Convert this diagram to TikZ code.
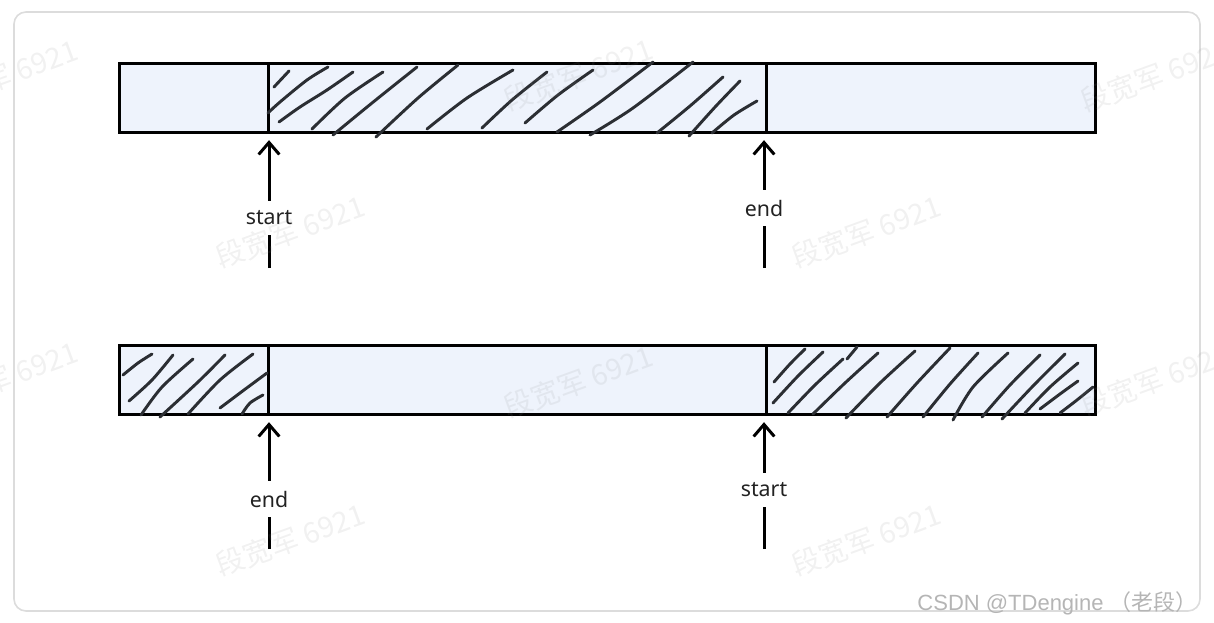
\documentclass[tikz,border=0pt]{standalone}
\usepackage{fontspec}
\setmainfont{Noto Sans}
\newfontfamily\cjk{Noto Sans CJK SC}
\newfontfamily\arialf{Liberation Sans}
\usetikzlibrary{arrows.meta}
\definecolor{barfill}{HTML}{EEF3FC}
\definecolor{hatch}{HTML}{2B2E33}
\definecolor{framec}{HTML}{DCDCDC}
\definecolor{lbl}{HTML}{222222}
\definecolor{wm}{HTML}{8A8A8A}
\definecolor{csdn}{HTML}{B5B5B5}
\begin{document}
\begin{tikzpicture}[x=0.75pt,y=-0.75pt,
 seg/.style={draw=black, fill=barfill, line width=2.25pt, rectangle, inner sep=0pt, minimum height=69*0.75pt},
 hatchline/.style={draw=hatch, line width=2.2pt, line cap=round, line join=round},
 lab/.style={font=\fontsize{16}{19}\selectfont, text=lbl, inner xsep=2pt, inner ysep=7.5pt},
 pointer/.style={line width=2.25pt, -{Straight Barb[length=9pt,width=15.5pt]}, shorten >=5pt},
 tailline/.style={line width=2.25pt},
 wmark/.style={font=\cjk\fontsize{21.5}{24}\selectfont, text=wm, text opacity=0.12, rotate=20},
]
\useasboundingbox (0,0) rectangle (1214,622);
\draw[framec, line width=1.2pt, rounded corners=9pt] (14,12) rectangle (1200,611);

% top bar
\node[seg, minimum width=149*0.75pt] (a1) at (193.5,97.5) {};
\node[seg, minimum width=498*0.75pt] (a2) at (517,97.5) {};
\node[seg, minimum width=329*0.75pt] (a3) at (930.5,97.5) {};
% bottom bar
\node[seg, minimum width=149*0.75pt] (b1) at (193.5,379.5) {};
\node[seg, minimum width=498*0.75pt] (b2) at (517,379.5) {};
\node[seg, minimum width=329*0.75pt] (b3) at (930.5,379.5) {};

% hatching top middle
\draw[hatchline] (274,87) -- (289,71);
\draw[hatchline] plot[smooth] coordinates {(268,113) (280,102) (307,80) (328,67)};
\draw[hatchline] plot[smooth] coordinates {(279,122) (300,107) (327,90) (353,72)};
\draw[hatchline] plot[smooth] coordinates {(312,129) (345,98) (383,72)};
\draw[hatchline] plot[smooth] coordinates {(333,135) (372,103) (417,67)};
\draw[hatchline] plot[smooth] coordinates {(376,137) (418,98) (458,65)};
\draw[hatchline] plot[smooth] coordinates {(427,129) (467,98) (513,70)};
\draw[hatchline] plot[smooth] coordinates {(482,128) (512,100) (547,72)};
\draw[hatchline] plot[smooth] coordinates {(525,123) (558,95) (593,70)};
\draw[hatchline] plot[smooth] coordinates {(557,132) (600,102) (653,62)};
\draw[hatchline] plot[smooth] coordinates {(590,135) (633,108) (693,62)};
\draw[hatchline] plot[smooth] coordinates {(657,133) (690,106) (723,77)};
\draw[hatchline] plot[smooth] coordinates {(689,136) (716,106) (740,81)};
\draw[hatchline] plot[smooth] coordinates {(712,133) (734,115) (757,101)};

% hatching bottom left
\draw[hatchline] plot[smooth] coordinates {(123,375) (138,363) (152,354)};
\draw[hatchline] plot[smooth] coordinates {(129,401) (152,380) (173,355)};
\draw[hatchline] plot[smooth] coordinates {(141,415) (162,387) (193,359)};
\draw[hatchline] plot[smooth] coordinates {(160,417) (198,382) (225,355)};
\draw[hatchline] plot[smooth] coordinates {(188,414) (220,380) (253,354)};
\draw[hatchline] plot[smooth] coordinates {(220,408) (244,390) (267,373)};
\draw[hatchline] plot[smooth] coordinates {(242,414) (250,403) (263,395)};

% hatching bottom right
\draw[hatchline] plot[smooth] coordinates {(774,382) (790,364) (805,349)};
\draw[hatchline] plot[smooth] coordinates {(773,403) (798,376) (823,352)};
\draw[hatchline] plot[smooth] coordinates {(788,413) (815,385) (843,359)};
\draw[hatchline] (847,359) -- (857,347);
\draw[hatchline] plot[smooth] coordinates {(813,414) (845,383) (878,353)};
\draw[hatchline] plot[smooth] coordinates {(846,418) (880,383) (915,351)};
\draw[hatchline] plot[smooth] coordinates {(887,417) (917,383) (950,348)};
\draw[hatchline] plot[smooth] coordinates {(923,417) (950,384) (978,353)};
\draw[hatchline] plot[smooth] coordinates {(953,420) (973,387) (1008,353)};
\draw[hatchline] plot[smooth] coordinates {(982,417) (1010,385) (1040,355)};
\draw[hatchline] plot[smooth] coordinates {(1002,419) (1033,386) (1065,354)};
\draw[hatchline] plot[smooth] coordinates {(1025,413) (1050,387) (1078,363)};
\draw[hatchline] plot[smooth] coordinates {(1040,409) (1060,394) (1078,381)};
\draw[hatchline] plot[smooth] coordinates {(1060,413) (1077,400) (1093,387)};

% pointers top
\node[lab] (s1) at (269,218) {start};
\coordinate (s1e) at (269,268);
\draw[tailline] (s1e) -- (s1);
\draw[pointer] (s1) -- (s1 |- a2.south);
\node[lab] (e1) at (764,208) {end};
\coordinate (e1e) at (764,268);
\draw[tailline] (e1e) -- (e1);
\draw[pointer] (e1) -- (e1 |- a3.south);

% pointers bottom
\node[lab] (e2) at (269,499) {end};
\coordinate (e2e) at (269,549);
\draw[tailline] (e2e) -- (e2);
\draw[pointer] (e2) -- (e2 |- b2.south);
\node[lab] (s2) at (764,490) {start};
\coordinate (s2e) at (764,549);
\draw[tailline] (s2e) -- (s2);
\draw[pointer] (s2) -- (s2 |- b3.south);

% watermarks
\node[wmark] (w1) at (3,76) {段宽军 6921};
\node[wmark] (w2) at (578,75) {段宽军 6921};
\node[wmark] (w3) at (1155,76) {段宽军 6921};
\node[wmark] (w4) at (290,232) {段宽军 6921};
\node[wmark] (w5) at (866,232) {段宽军 6921};
\node[wmark] (w6) at (3,378) {段宽军 6921};
\node[wmark] (w7) at (578,382) {段宽军 6921};
\node[wmark] (w8) at (1155,380) {段宽军 6921};
\node[wmark] (w9) at (290,540) {段宽军 6921};
\node[wmark] (w10) at (866,540) {段宽军 6921};

\node[font=\arialf\fontsize{16.5}{19}\selectfont, text=csdn, anchor=east, inner sep=0pt] (csdn) at (1198,603) {CSDN @TDengine {\cjk （老段）}};
\end{tikzpicture}
\end{document}
